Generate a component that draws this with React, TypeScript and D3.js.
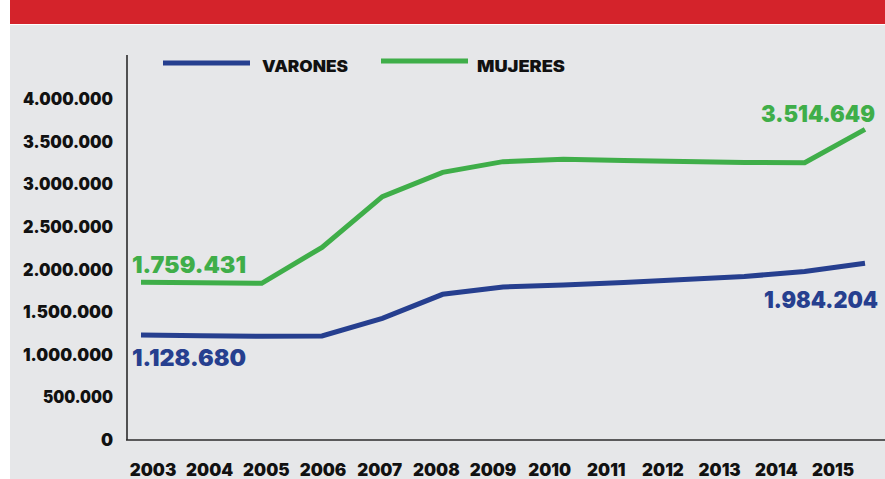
import React from "react";
import * as d3 from "d3";

const years = ["2003", "2004", "2005", "2006", "2007", "2008", "2009", "2010", "2011", "2012", "2013", "2014", "2015"];
const varones = [1232000, 1224000, 1216000, 1220000, 1427000, 1709000, 1795000, 1818000, 1847000, 1883000, 1918000, 1976000, 2073000];
const mujeres = [1850000, 1844000, 1838000, 2260000, 2854000, 3140000, 3265000, 3293000, 3279000, 3267000, 3255000, 3253000, 3644000];
const yTicks = [0, 500000, 1000000, 1500000, 2000000, 2500000, 3000000, 3500000, 4000000];
const seriesNames = ["VARONES", "MUJERES"];
const annotations = [
  { label: "1.128.680", series: 0, idx: 0 },
  { label: "1.759.431", series: 1, idx: 0 },
  { label: "1.984.204", series: 0, idx: 12 },
  { label: "3.514.649", series: 1, idx: 12 },
];

const W = 885;
const H = 479;
const BLUE = "#263f8f";
const GREEN = "#3fae49";
const RED = "#d4232b";
const BG = "#e6e7e9";
const FONT = "Inter, 'Liberation Sans', Arial, sans-serif";

const loc = d3.formatLocale({ decimal: ",", thousands: ".", grouping: [3], currency: ["", ""] });
const fmt = loc.format(",d");

export default function App() {
  const xLine = d3.scalePoint<string>().domain(years).range([141, 865]);
  const xLabel = d3.scalePoint<string>().domain(years).range([153, 833]);
  const y = d3.scaleLinear().domain([0, 4000000]).range([440, 99]);
  const line = d3
    .line<number>()
    .x((_, i) => xLine(years[i]) as number)
    .y((d) => y(d));
  const series = [varones, mujeres];
  const colors = [BLUE, GREEN];

  const annPos = [
    { dx: -9, dy: 31, anchor: "start" },
    { dx: -9, dy: -9, anchor: "start" },
    { dx: 13, dy: 45, anchor: "end" },
    { dx: 10, dy: -7, anchor: "end" },
  ];

  return (
    <svg
      width={W}
      height={H}
      style={{ position: "fixed", left: 0, top: 0, display: "block" }}
      fontFamily={FONT}
    >
      <rect x={0} y={0} width={W} height={H} fill="#ffffff" />
      <rect x={10} y={0} width={W - 10} height={24} fill={RED} />
      <rect x={10} y={25} width={W - 10} height={H - 25} fill={BG} />

      <line x1={127} x2={127} y1={55} y2={y(0)} stroke="#2b2b2b" strokeWidth={1.6} />
      <line x1={126} x2={W} y1={y(0)} y2={y(0)} stroke="#2b2b2b" strokeWidth={1.6} />

      {yTicks.map((t) => (
        <text
          key={t}
          x={113}
          y={y(t)}
          dy="0.36em"
          textAnchor="end"
          fontSize={17}
          fontWeight={900}
          fill="#111"
          textLength={t === 0 ? undefined : t < 1000000 ? 70 : 90}
          lengthAdjust="spacingAndGlyphs"
        >
          {fmt(t)}
        </text>
      ))}

      {years.map((yr) => (
        <text
          key={yr}
          x={xLabel(yr)}
          y={476}
          textAnchor="middle"
          fontSize={17}
          fontWeight={900}
          fill="#111"
        >
          {yr}
        </text>
      ))}

      <line x1={163} x2={250} y1={63} y2={63} stroke={BLUE} strokeWidth={5} />
      <text x={262} y={72} fontSize={16} fontWeight={900} fill="#111" textLength={86} lengthAdjust="spacingAndGlyphs">
        {seriesNames[0]}
      </text>
      <line x1={381} x2={468} y1={61} y2={61} stroke={GREEN} strokeWidth={5} />
      <text x={477} y={72} fontSize={16} fontWeight={900} fill="#111" textLength={88} lengthAdjust="spacingAndGlyphs">
        {seriesNames[1]}
      </text>

      {series.map((s, i) => (
        <path key={i} d={line(s) as string} fill="none" stroke={colors[i]} strokeWidth={5} strokeLinejoin="miter" />
      ))}

      {annotations.map((a, k) => {
        const p = annPos[k];
        const px = xLine(years[a.idx]) as number;
        const py = y(series[a.series][a.idx]);
        return (
          <text
            key={a.label}
            x={px + p.dx}
            y={py + p.dy}
            textAnchor={p.anchor as any}
            fontSize={23}
            fontWeight={900}
            fill={colors[a.series]}
            textLength={114}
            lengthAdjust="spacingAndGlyphs"
          >
            {a.label}
          </text>
        );
      })}
    </svg>
  );
}
